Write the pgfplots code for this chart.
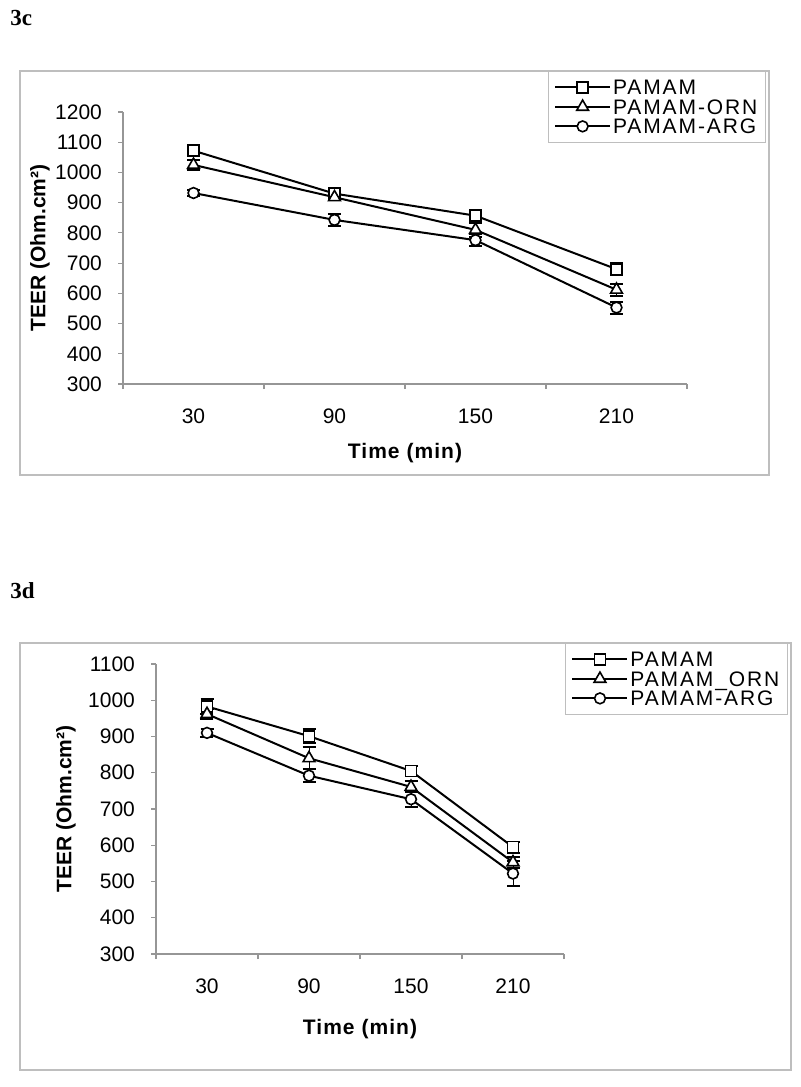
\documentclass[border=0pt]{standalone}
\usepackage{fontspec}
\setmainfont{Liberation Sans}
\newfontfamily\timesfont{Liberation Serif}
\usepackage{pgfplots}
\pgfplotsset{compat=1.18}
\definecolor{framegray}{RGB}{190,190,190}
\definecolor{axisgray}{RGB}{150,150,150}
\pgfplotsset{
  teer/.style={
    scale only axis,
    axis x line*=bottom, axis y line*=left,
    axis line style={axisgray, line width=0.6pt},
    xmin=-0.5, xmax=3.5,
    xtick={-0.5,0.5,1.5,2.5,3.5},
    x tick label as interval,
    xticklabels={30,90,150,210},
    tick align=outside,
    major tick length=2.5pt,
    tick style={axisgray, line width=0.6pt},
    tick label style={font=\fontsize{10.5}{12}\selectfont},
    /pgf/number format/assume math mode=true,
    /pgf/number format/1000 sep={},
    yticklabel style={xshift=-4.5pt},
    xticklabel style={yshift=-6.5pt},
    label style={font=\bfseries\fontsize{10.5}{12}\selectfont},
    xlabel={\addfontfeature{LetterSpace=5}Time (min)},
    ylabel={TEER (Ohm.cm²)},
    legend cell align=left,
    legend style={draw=framegray, line width=0.6pt, font=\fontsize{10.5}{12}\selectfont\addfontfeature{LetterSpace=9},
      inner sep=3pt, anchor=north east,
      nodes={inner sep=1pt, text height=7.6pt, text depth=0.15pt}},
    legend image code/.code={\draw[mark repeat=2,mark phase=2] plot coordinates {(0pt,0pt) (13.75pt,0pt) (27.5pt,0pt)};},
    every axis plot/.append style={black, line width=1pt},
    error bars/y dir=both, error bars/y explicit,
    error bars/error mark options={black, line width=1pt, mark size=3.25pt, rotate=90},
  },
  sq/.style={mark=square*, mark size=2.7pt, mark options={fill=white, solid, line width=0.8pt}},
  tri/.style={mark=triangle*, mark size=3.4pt, mark options={fill=white, solid, line width=0.8pt}},
  circ/.style={mark=*, mark size=2.7pt, mark options={fill=white, solid, line width=0.8pt}},
}
\begin{document}
\begin{tikzpicture}
\path[use as bounding box] (0,0) rectangle (400pt,-543.5pt);
% panel labels and frames
\node[anchor=base west, inner sep=0pt, font=\timesfont\bfseries\fontsize{11.5}{13}\selectfont] at (5pt,-12.5pt) {3c};
\node[anchor=base west, inner sep=0pt, font=\timesfont\bfseries\fontsize{11.5}{13}\selectfont] at (5pt,-299pt) {3d};
\draw[framegray, line width=0.6pt] (10pt,-35.5pt) rectangle (384.5pt,-237.5pt);
\draw[framegray, line width=0.6pt] (10pt,-321.5pt) rectangle (395.5pt,-535pt);

\begin{axis}[teer,
  at={(61.5pt,-192pt)}, anchor=south west,
  width=282pt, height=136pt,
  ymin=300, ymax=1200, ytick={300,400,...,1200},
  ylabel style={at={(axis description cs:-0.1472,0.5)}, anchor=center},
  xlabel style={at={(axis description cs:0.5,-0.2537)}, anchor=center},
  legend style={at={(axis description cs:1.140,1.1507)}},
]
\addplot[sq] coordinates {(0,1072) +- (0,18) (1,930) +- (0,13) (2,857) +- (0,17) (3,680) +- (0,20)};
\addlegendentry{PAMAM}
\addplot[tri] coordinates {(0,1025) +- (0,17) (1,918) +- (0,10) (2,810) +- (0,22) (3,612) +- (0,20)};
\addlegendentry{PAMAM-ORN}
\addplot[circ] coordinates {(0,932) +- (0,9) (1,843) +- (0,20) (2,776) +- (0,19) (3,553) +- (0,20)};
\addlegendentry{PAMAM-ARG}
\end{axis}

\begin{axis}[teer,
  at={(78pt,-477pt)}, anchor=south west,
  width=204pt, height=145pt,
  ymin=300, ymax=1100, ytick={300,400,...,1100},
  ylabel style={at={(axis description cs:-0.2206,0.5)}, anchor=center},
  xlabel style={at={(axis description cs:0.5,-0.2586)}, anchor=center},
  legend style={at={(axis description cs:1.549,1.0724)}},
]
\addplot[sq] coordinates {(0,983) +- (0,20) (1,901) +- (0,20) (2,805) +- (0,15) (3,595) +- (0,15)};
\addlegendentry{PAMAM}
\addplot[tri] coordinates {(0,962) +- (0,15) (1,840) +- (0,30) (2,761) +- (0,15) (3,553) +- (0,15)};
\addlegendentry{PAMAM\_ORN}
\addplot[circ] coordinates {(0,910) +- (0,12) (1,792) +- (0,18) (2,727) +- (0,22) (3,522) +- (0,35)};
\addlegendentry{PAMAM-ARG}
\end{axis}
\end{tikzpicture}
\end{document}
